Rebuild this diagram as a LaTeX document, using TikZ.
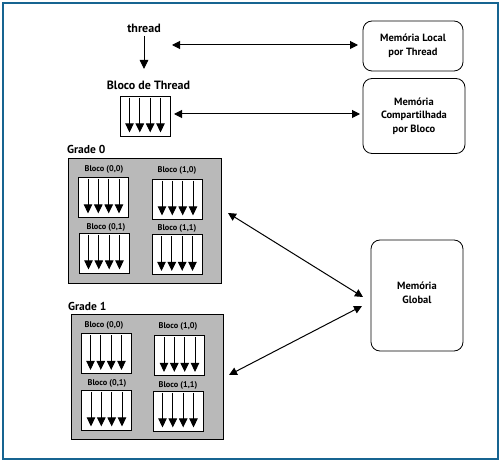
\documentclass[tikz,border=0pt]{standalone}
\usepackage{fontspec}
\setmainfont{PT Sans}
\usetikzlibrary{arrows.meta,calc}
\definecolor{framec}{RGB}{22,100,145}
\definecolor{gridc}{RGB}{185,185,185}
\tikzset{
  txt/.style={font=\bfseries\fontsize{10.5}{13.5}\selectfont, align=center, inner sep=0pt},
  head/.style={font=\bfseries\fontsize{12}{14}\selectfont, inner sep=0pt},
  small/.style={font=\bfseries\fontsize{8.3}{9}\selectfont, inner sep=0pt},
  big/.style={font=\bfseries\fontsize{11.5}{13}\selectfont, inner sep=0pt, anchor=west},
  mem/.style={draw, rounded corners=9pt, line width=0.8pt, inner sep=0pt},
  blk/.style={draw, fill=white, line width=0.8pt, minimum width=50pt, minimum height=40pt, inner sep=0pt},
  gridbox/.style={draw, fill=gridc, line width=0.8pt, inner sep=0pt},
  tarrow/.style={line width=0.9pt, -{Triangle[width=8.5pt,length=9pt]}},
  link/.style={line width=1pt, {Triangle[width=8pt,length=8pt]}-{Triangle[width=8pt,length=8pt]}},
}
\newcommand{\tblk}[3]{%
  \node[blk] (#1) at (#2,#3) {};
  \foreach \dx in {-15.5,-5.2,5.2,15.5}
    \draw[tarrow] ($(#1.north)+(\dx,2)$) -- ($(#1.south)+(\dx,-4)$);
}
\begin{document}
\begin{tikzpicture}[x=1pt,y=-1pt]
\useasboundingbox (0,0) rectangle (501,462);
\node[draw=framec, line width=1.6pt, minimum width=495pt, minimum height=456pt, inner sep=0pt] (frame) at (250.5,231) {};

% thread and thread block
\node[head] (thr) at (144,28) {thread};
\coordinate (thrS) at (144,36);
\coordinate (thrE) at (144,69);
\draw[tarrow] (thrS) -- (thrE);
\node[head] (bdt) at (148.5,85) {Bloco de Thread};
\tblk{tb}{145}{116}

% memories
\node[mem, minimum width=100pt, minimum height=50pt] (loc) at (413,46) {};
\node[txt] (loct) at (loc.center) {Memória Local\\por Thread};
\node[mem, minimum width=102pt, minimum height=75pt] (sha) at (414,116) {};
\node[txt] (shat) at (sha.center) {Memória\\Compartilhada\\por Bloco};
\node[mem, minimum width=92pt, minimum height=111pt] (glo) at (417,295.5) {};
\node[txt] (glot) at (417,293) {Memória\\Global};

\coordinate (a1s) at (172,45);
\coordinate (a1e) at (358,45);
\draw[link] (a1s) -- (a1e);
\coordinate (a2s) at (174,114);
\coordinate (a2e) at (360,114);
\draw[link] (a2s) -- (a2e);

% Grade 0
\node[big] (g0) at (67,149) {Grade 0};
\node[gridbox, minimum width=153pt, minimum height=125pt] (grid0) at (144.5,220.5) {};
\node[small] (l00) at (104,169) {Bloco (0,0)};
\tblk{b00}{103.5}{197}
\node[small] (l10) at (177,170) {Bloco (1,0)};
\tblk{b10}{177.5}{199}
\node[small] (l01) at (106,227) {Bloco (0,1)};
\tblk{b01}{104}{253}
\node[small] (l11) at (177,228) {Bloco (1,1)};
\tblk{b11}{177}{254.5}

% Grade 1
\node[big] (g1) at (68,306) {Grade 1};
\node[gridbox, minimum width=152pt, minimum height=125pt] (grid1) at (147,376.5) {};
\node[small] (m00) at (104,325) {Bloco (0,0)};
\tblk{c00}{106}{353.5}
\node[small] (m10) at (178,326) {Bloco (1,0)};
\tblk{c10}{179.5}{355.5}
\node[small] (m01) at (107,383) {Bloco (0,1)};
\tblk{c01}{106.5}{410}
\node[small] (m11) at (178,385) {Bloco (1,1)};
\tblk{c11}{178}{411}

% global links
\coordinate (d1s) at (228,213);
\coordinate (d1e) at (363,297);
\draw[link] (d1s) -- (d1e);
\coordinate (d2s) at (362,306);
\coordinate (d2e) at (229,375);
\draw[link] (d2s) -- (d2e);
\end{tikzpicture}
\end{document}
